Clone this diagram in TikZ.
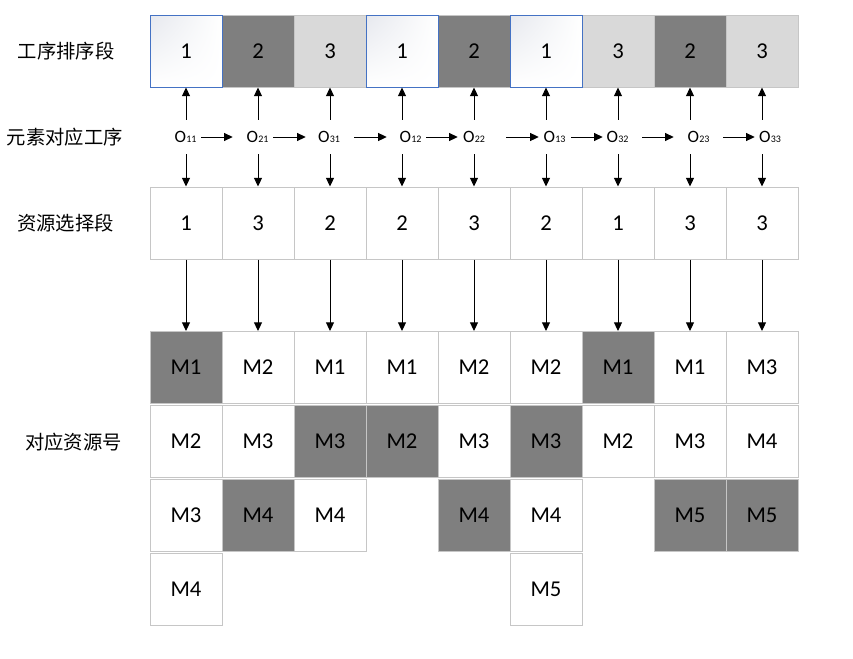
\documentclass[tikz,border=0pt]{standalone}
\usepackage{fontspec}
\setmainfont{Carlito}
\newfontfamily\cjk{Noto Sans CJK SC}
\usetikzlibrary{arrows.meta,shadings}
\definecolor{darkc}{HTML}{7F7F7F}
\definecolor{lightc}{HTML}{D9D9D9}
\definecolor{cellborder}{HTML}{C6C6C6}
\definecolor{bluec}{HTML}{4472C4}
\definecolor{shadec}{HTML}{E6E8EE}
\newcommand\osub[2]{O\kern0.2pt{\fontsize{7.5}{7.5}\selectfont #1#2}}
\begin{document}
\begin{tikzpicture}[x=0.75pt,y=-0.75pt,
  cell/.style={draw=cellborder, line width=0.75pt, minimum width=54pt, minimum height=54pt, inner sep=0pt, font=\fontsize{17}{17}\selectfont},
  seqA/.style={cell, draw=bluec, upper left=shadec, upper right=white, lower left=white, lower right=white},
  seqB/.style={cell, fill=darkc},
  seqC/.style={cell, fill=lightc},
  wcell/.style={cell, fill=white},
  dcell/.style={cell, fill=darkc},
  onode/.style={inner sep=0pt, minimum width=18pt, minimum height=25.5pt, font=\fontsize{13}{13}\selectfont},
  lbl/.style={inner sep=0pt, font=\cjk\fontsize{14.5}{14.5}\selectfont},
  arr/.style={-{Triangle[length=6.5pt,width=6pt]}, line width=0.75pt, black},
]
\useasboundingbox (0,0) rectangle (853,658);

% left labels
\node[lbl] (l1) at (66,51) {工序排序段};
\node[lbl] (l2) at (65,137) {元素对应工序};
\node[lbl] (l3) at (65.5,223) {资源选择段};
\node[lbl] (l4) at (73.5,442) {对应资源号};

% process sequencing segment
\node[seqB] (t2) at (258,51) {2};
\node[seqC] (t3) at (330,51) {3};
\node[seqB] (t5) at (474,51) {2};
\node[seqC] (t7) at (618,51) {3};
\node[seqB] (t8) at (690,51) {2};
\node[seqC] (t9) at (762,51) {3};
\node[seqA] (t1) at (186,51) {1};
\node[seqA] (t4) at (402,51) {1};
\node[seqA] (t6) at (546,51) {1};

% operation labels
\node[onode] (o1) at (185.5,137) {\osub11};
\node[onode] (o2) at (257.5,137) {\osub21};
\node[onode] (o3) at (329,137) {\osub31};
\node[onode] (o4) at (410.5,137) {\osub12};
\node[onode] (o5) at (474,137) {\osub22};
\node[onode] (o6) at (554.5,137) {\osub13};
\node[onode] (o7) at (617.5,137) {\osub32};
\node[onode] (o8) at (698.5,137) {\osub23};
\node[onode] (o9) at (770,137) {\osub33};

% resource selection segment
\node[wcell] (r1) at (186,223) {1};
\node[wcell] (r2) at (258,223) {3};
\node[wcell] (r3) at (330,223) {2};
\node[wcell] (r4) at (402,223) {2};
\node[wcell] (r5) at (474,223) {3};
\node[wcell] (r6) at (546,223) {2};
\node[wcell] (r7) at (618,223) {1};
\node[wcell] (r8) at (690,223) {3};
\node[wcell] (r9) at (762,223) {3};

% resource number grid
\node[dcell] (m11) at (186,367.5) {M1};
\node[wcell] (m12) at (186,441.5) {M2};
\node[wcell] (m13) at (186,515) {M3};
\node[wcell] (m14) at (186,589) {M4};

\node[wcell] (m21) at (258,367.5) {M2};
\node[wcell] (m22) at (258,441.5) {M3};
\node[dcell] (m23) at (258,515) {M4};

\node[wcell] (m31) at (330,367.5) {M1};
\node[dcell] (m32) at (330,441.5) {M3};
\node[wcell] (m33) at (330,515) {M4};

\node[wcell] (m41) at (402,367.5) {M1};
\node[dcell] (m42) at (402,441.5) {M2};

\node[wcell] (m51) at (474,367.5) {M2};
\node[wcell] (m52) at (474,441.5) {M3};
\node[dcell] (m53) at (474,515) {M4};

\node[wcell] (m61) at (546,367.5) {M2};
\node[dcell] (m62) at (546,441.5) {M3};
\node[wcell] (m63) at (546,515) {M4};
\node[wcell] (m64) at (546,589) {M5};

\node[dcell] (m71) at (618,367.5) {M1};
\node[wcell] (m72) at (618,441.5) {M2};

\node[wcell] (m81) at (690,367.5) {M1};
\node[wcell] (m82) at (690,441.5) {M3};
\node[dcell] (m83) at (690,515) {M5};

\node[wcell] (m91) at (762,367.5) {M3};
\node[wcell] (m92) at (762,441.5) {M4};
\node[dcell] (m93) at (762,515) {M5};

% vertical arrows
\foreach \i in {1,...,9}{
  \draw[arr] (t\i.south |- o\i.north) -- (t\i.south);
  \draw[arr] (r\i.north |- o\i.south) -- (r\i.north);
  \draw[arr] (r\i.south) -- (m\i1.north);
}

% horizontal arrows between operations
\draw[arr, shorten <=2.6pt, shorten >=9.4pt] (o1.east) -- (o2.west);
\draw[arr, shorten <=2.6pt, shorten >=8.25pt] (o2.east) -- (o3.west);
\draw[arr, shorten <=9.75pt, shorten >=8.6pt] (o3.east) -- (o4.west);
\draw[arr, shorten <=2.6pt, shorten >=3pt] (o4.east) -- (o5.west);
\draw[arr, shorten <=15pt, shorten >=2.6pt] (o5.east) -- (o6.west);
\draw[arr, shorten <=3.4pt, shorten >=1.9pt] (o6.east) -- (o7.west);
\draw[arr, shorten <=9.4pt, shorten >=9.4pt] (o7.east) -- (o8.west);
\draw[arr, shorten <=9.4pt, shorten >=2.25pt] (o8.east) -- (o9.west);
\end{tikzpicture}
\end{document}
